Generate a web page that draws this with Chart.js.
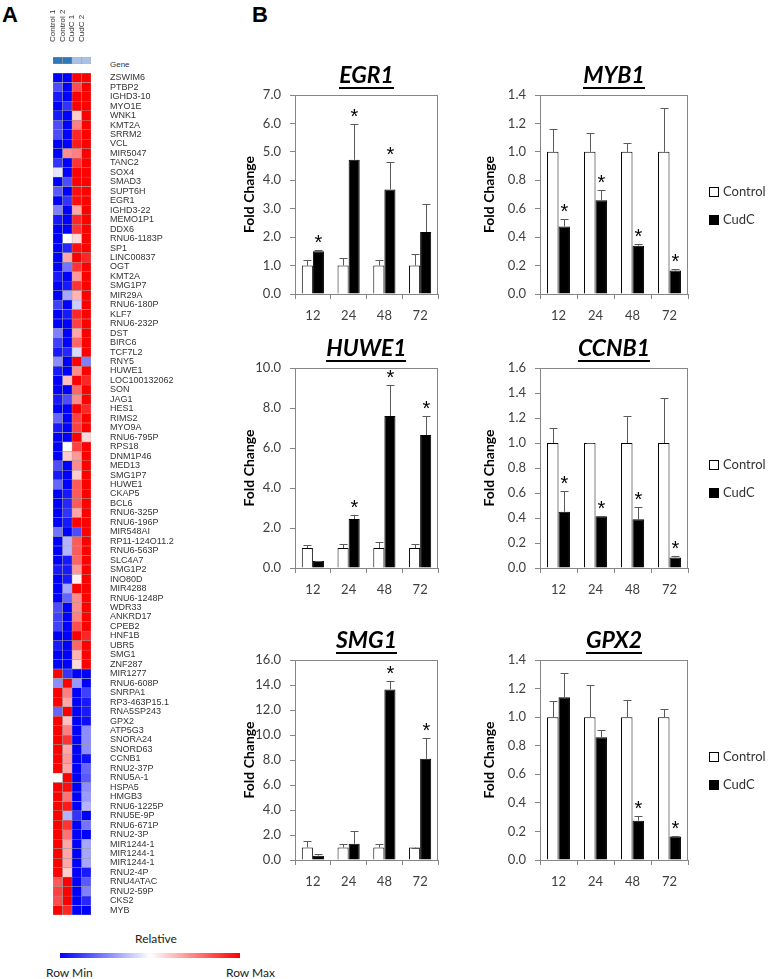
<!DOCTYPE html>
<html>
<head>
<meta charset="utf-8">
<script src="https://cdn.jsdelivr.net/npm/chart.js@4.4.1/dist/chart.umd.min.js"></script>
<style>
  body { margin: 0; background: #fff; width: 771px; height: 979px; position: relative; overflow: hidden; }
  canvas { position: absolute; }
  .txt { position: absolute; white-space: nowrap; color: #222; }
</style>
</head>
<body>
<div class="txt" style="left:2px;top:2px;font:bold 22px 'Liberation Sans',Arial,sans-serif;color:#000">A</div>
<div class="txt" style="left:252px;top:2px;font:bold 22px 'Liberation Sans',Arial,sans-serif;color:#000">B</div>
<div class="txt" style="left:110px;top:60px;font:8px 'Liberation Sans',Arial,sans-serif;color:#333">Gene</div>
<div class="txt" style="left:135px;top:931px;font:12px Lato,sans-serif">Relative</div>
<div style="position:absolute;left:60px;top:953px;width:180px;height:5px;background:linear-gradient(to right,#0000ff,#ffffff,#ff0000)"></div>
<div class="txt" style="left:46px;top:965px;font:12px Lato,sans-serif">Row Min</div>
<div class="txt" style="left:226px;top:965px;font:12px Lato,sans-serif">Row Max</div>

<script>
// ---- panel A: heatmap (row-scaled, -1 = row min, +1 = row max) ----
const genes = ['ZSWIM6','PTBP2','IGHD3-10','MYO1E','WNK1','KMT2A','SRRM2','VCL','MIR5047','TANC2',
  'SOX4','SMAD3','SUPT6H','EGR1','IGHD3-22','MEMO1P1','DDX6','RNU6-1183P','SP1','LINC00837',
  'OGT','KMT2A','SMG1P7','MIR29A','RNU6-180P','KLF7','RNU6-232P','DST','BIRC6','TCF7L2',
  'RNY5','HUWE1','LOC100132062','SON','JAG1','HES1','RIMS2','MYO9A','RNU6-795P','RPS18',
  'DNM1P46','MED13','SMG1P7','HUWE1','CKAP5','BCL6','RNU6-325P','RNU6-196P','MIR548AI','RP11-124O11.2',
  'RNU6-563P','SLC4A7','SMG1P2','INO80D','MIR4288','RNU6-1248P','WDR33','ANKRD17','CPEB2','HNF1B',
  'UBR5','SMG1','ZNF287','MIR1277','RNU6-608P','SNRPA1','RP3-463P15.1','RNA5SP243','GPX2','ATP5G3',
  'SNORA24','SNORD63','CCNB1','RNU2-37P','RNU5A-1','HSPA5','HMGB3','RNU6-1225P','RNU5E-9P','RNU6-671P',
  'RNU2-3P','MIR1244-1','MIR1244-1','MIR1244-1','RNU2-4P','RNU4ATAC','RNU2-59P','CKS2','MYB'];

const control1 = [-1,-0.7,-0.9,-1,-0.9,-0.7,-0.7,-1,-1,-0.8,
  -0.1,-1,-0.65,-1,-0.5,-0.9,-1,-1,-1,-1,
  -1,-0.9,-1,-1,-0.75,-1,-1,-0.5,-0.75,-0.9,
  -0.45,-0.9,-1,-1,-0.9,-1,-0.6,-0.9,-1,-1,
  -1,-0.7,-0.9,-0.6,-1,-1,-1,-1,-0.55,-1,
  -1,-1,-0.9,-1,-1,-1,-0.7,-0.75,-0.75,-1,
  -0.9,-1,-1,1,-0.45,1,1,-0.6,1,1,
  1,1,1,1,0,1,1,1,1,1,
  1,1,1,1,1,0.65,0.75,0.7,1];
const control2 = [-1,-1,-1,-0.8,-1,-1,-1,-1,0.45,-1,
  -1,-0.7,-1,-0.8,-1,-1,-1,0,-0.85,0.35,
  -0.55,-1,-0.9,-0.35,-1,-0.9,-1,-1,-1,-0.85,
  -1,-1,0.25,-1,-0.7,-1,-1,-1,-1,0,
  0.2,-1,-1,-1,-0.9,-0.85,-0.8,-0.9,-1,-0.3,
  -0.3,-0.9,-0.9,-0.9,-0.35,-0.6,-1,-1,-1,-1,
  -1,-1,-1,-0.8,1,0.5,0.35,1,0.25,0.5,
  0.8,0.35,0.4,0.35,1,0.95,0.55,0.9,-0.3,0.8,
  0.55,0.35,0.35,0.35,0.2,1,1,1,0.85];
const cudc1 = [1,0.7,1,1,0.2,0.5,0.85,0.9,0.5,0.8,
  1,1,0.95,0.95,0.35,0.85,0.8,0.15,0.95,1,
  0.8,0.4,0.8,0.3,-0.2,0.85,0.75,0.35,0.6,-0.15,
  1,0.45,1,0.6,0.45,1,0.75,0.75,1,0.75,
  0.4,0.45,0.2,0.65,0.65,0.65,0.35,1,-0.7,0.65,
  0.65,0.6,0.4,0.05,1,0.45,0.45,0.5,0.7,1,
  0.6,0.3,0.15,-1,-0.4,-1,-1,-1,-1,-1,
  -1,-1,-1,-1,-1,-1,-1,-1,-0.8,-1,
  -1,-1,-1,-1,-1,-1,-1,-1,-1];
const cudc2 = [1,1,1,1,1,1,1,1,1,1,
  1,1,1,1,1,1,1,1,1,0.85,
  1,1,1,1,1,1,1,1,1,1,
  -0.5,1,0.85,1,1,0.85,1,1,0.15,1,
  1,1,1,1,1,1,1,1,1,1,
  1,1,1,1,1,1,1,1,1,0.85,
  1,1,1,-1,-1,-0.75,-0.9,-0.9,-0.95,-0.45,
  -0.45,-0.45,-0.95,-0.6,-0.65,-0.45,-0.4,-0.3,-1,-0.55,
  -1,-0.35,-0.35,-0.35,-0.9,-0.65,-0.5,-0.85,-1];
const sampleNames = ['Control 1', 'Control 2', 'CudC 1', 'CudC 2'];
const sampleGroup = ['Control', 'Control', 'CudC', 'CudC'];

// ---- panel B: qPCR fold change ----
const hours = ['12', '24', '48', '72'];

const egr1Control = [1, 1, 1, 1];
const egr1ControlErr = [0.18, 0.28, 0.2, 0.42];
const egr1CudC = [1.5, 4.72, 3.68, 2.18];
const egr1CudCErr = [0.05, 1.26, 0.97, 0.99];
const egr1Sig = [true, true, true, false];

const myb1Control = [1, 1, 1, 1];
const myb1ControlErr = [0.16, 0.13, 0.065, 0.31];
const myb1CudC = [0.475, 0.66, 0.34, 0.165];
const myb1CudCErr = [0.05, 0.07, 0.015, 0.01];
const myb1Sig = [true, true, true, true];

const huwe1Control = [1, 1, 1, 1];
const huwe1ControlErr = [0.15, 0.2, 0.3, 0.18];
const huwe1CudC = [0.35, 2.45, 7.6, 6.65];
const huwe1CudCErr = [0, 0.2, 1.55, 0.93];
const huwe1Sig = [false, true, true, true];

const ccnb1Control = [1, 1, 1, 1];
const ccnb1ControlErr = [0.12, 0.003, 0.22, 0.36];
const ccnb1CudC = [0.45, 0.415, 0.39, 0.085];
const ccnb1CudCErr = [0.17, 0, 0.1, 0.01];
const ccnb1Sig = [true, true, true, true];

const smg1Control = [1, 1, 1, 1];
const smg1ControlErr = [0.55, 0.3, 0.3, 0];
const smg1CudC = [0.35, 1.3, 13.65, 8.1];
const smg1CudCErr = [0.1, 1.05, 0.7, 1.65];
const smg1Sig = [false, false, true, true];

const gpx2Control = [1, 1, 1, 1];
const gpx2ControlErr = [0.11, 0.225, 0.12, 0.06];
const gpx2CudC = [1.14, 0.86, 0.275, 0.165];
const gpx2CudCErr = [0.17, 0.05, 0.03, 0.005];
const gpx2Sig = [false, false, true, true];

const axisMax = { EGR1: 7, MYB1: 1.4, HUWE1: 10, CCNB1: 1.6, SMG1: 16, GPX2: 1.4 };
const axisStep = { EGR1: 1, MYB1: 0.2, HUWE1: 2, CCNB1: 0.2, SMG1: 2, GPX2: 0.2 };

const panels = [
  { gene: 'EGR1', col: 0, row: 0, ctrl: egr1Control, ctrlErr: egr1ControlErr, cudc: egr1CudC, cudcErr: egr1CudCErr, sig: egr1Sig },
  { gene: 'MYB1', col: 1, row: 0, ctrl: myb1Control, ctrlErr: myb1ControlErr, cudc: myb1CudC, cudcErr: myb1CudCErr, sig: myb1Sig },
  { gene: 'HUWE1', col: 0, row: 1, ctrl: huwe1Control, ctrlErr: huwe1ControlErr, cudc: huwe1CudC, cudcErr: huwe1CudCErr, sig: huwe1Sig },
  { gene: 'CCNB1', col: 1, row: 1, ctrl: ccnb1Control, ctrlErr: ccnb1ControlErr, cudc: ccnb1CudC, cudcErr: ccnb1CudCErr, sig: ccnb1Sig },
  { gene: 'SMG1', col: 0, row: 2, ctrl: smg1Control, ctrlErr: smg1ControlErr, cudc: smg1CudC, cudcErr: smg1CudCErr, sig: smg1Sig },
  { gene: 'GPX2', col: 1, row: 2, ctrl: gpx2Control, ctrlErr: gpx2ControlErr, cudc: gpx2CudC, cudcErr: gpx2CudCErr, sig: gpx2Sig },
];

// ---- helpers ----
function addCanvas(left, top, w, h) {
  const c = document.createElement('canvas');
  c.width = w; c.height = h;
  c.style.left = left + 'px'; c.style.top = top + 'px';
  c.style.width = w + 'px'; c.style.height = h + 'px';
  document.body.appendChild(c);
  return c.getContext('2d');
}

function heatColor(v) {
  const t = Math.min(1, Math.abs(v));
  const c = Math.round(255 * (1 - t));
  return v >= 0 ? `rgb(255,${c},${c})` : `rgb(${c},${c},255)`;
}

const groupColor = { Control: '#2f77b6', CudC: '#a9c2e4' };
const geneFont = { family: "'Liberation Sans', Arial, sans-serif", size: 9 };
const noAnim = { responsive: false, animation: false, devicePixelRatio: 1 };

// header strip with sample names (chart area x 53..91, y 57..64)
new Chart(addCanvas(43, 0, 58, 64), {
  type: 'bar',
  data: {
    labels: sampleNames,
    datasets: [{
      data: sampleNames.map(() => 1),
      backgroundColor: sampleGroup.map(g => groupColor[g]),
      borderColor: '#9a9a9a', borderWidth: 0.5, borderSkipped: false,
      categoryPercentage: 1, barPercentage: 1,
    }],
  },
  options: {
    ...noAnim,
    plugins: { legend: { display: false }, tooltip: { enabled: false } },
    layout: { padding: { left: 10, right: 10, top: 0, bottom: 0 } },
    scales: {
      x: {
        position: 'top',
        grid: { display: false }, border: { display: false },
        ticks: { autoSkip: false, minRotation: 90, maxRotation: 90, padding: 7, labelOffset: 5,
          font: { family: geneFont.family, size: 8 }, color: '#333' },
        afterFit: s => { s.height = 57; s.paddingLeft = 0; s.paddingRight = 0; },
      },
      y: { display: false, min: 0, max: 1 },
    },
  },
});

// heatmap body (chart area x 53..91, y 73..915)
const heatValues = [control1, control2, cudc1, cudc2];
new Chart(addCanvas(53, 73, 158, 842), {
  type: 'bar',
  data: {
    labels: genes,
    datasets: heatValues.map((vals, k) => ({
      label: sampleNames[k],
      data: genes.map(() => 1),
      backgroundColor: vals.map(heatColor),
      borderColor: '#9a9a9a', borderWidth: 0.5, borderSkipped: false,
      categoryPercentage: 1, barPercentage: 1,
    })),
  },
  options: {
    ...noAnim,
    indexAxis: 'y',
    plugins: { legend: { display: false }, tooltip: { enabled: false } },
    layout: { padding: 0 },
    scales: {
      x: { stacked: true, display: false, min: 0, max: 4 },
      y: {
        stacked: true, position: 'right',
        grid: { display: false, drawTicks: false }, border: { display: false },
        ticks: { autoSkip: false, padding: 19, crossAlign: 'near', font: geneFont, color: '#333' },
        afterFit: s => { s.width = 120; s.paddingTop = 0; s.paddingBottom = 0; },
      },
    },
  },
});

// error bars, significance stars, plot frame, underlined title, legend
const barExtras = {
  id: 'barExtras',
  afterDatasetsDraw(chart, args, opts) {
    const { ctx, chartArea: a } = chart;
    const y = chart.scales.y;
    ctx.save();
    ctx.strokeStyle = '#868686';
    ctx.lineWidth = 1;
    ctx.strokeRect(Math.round(a.left) + 0.5, Math.round(a.top) + 0.5, Math.round(a.width) - 1, Math.round(a.height));

    opts.errors.forEach((errs, di) => {
      const ds = chart.data.datasets[di];
      chart.getDatasetMeta(di).data.forEach((bar, j) => {
        const x = Math.round(bar.x) + 0.5;
        const top = Math.round(y.getPixelForValue(ds.data[j] + errs[j])) + 0.5;
        ctx.strokeStyle = '#5a5a5a';
        ctx.beginPath();
        ctx.moveTo(x, bar.y); ctx.lineTo(x, top);
        ctx.moveTo(x - 4, top); ctx.lineTo(x + 4, top);
        ctx.stroke();
        if (di === 1 && opts.sig[j]) {
          ctx.fillStyle = '#000';
          ctx.font = "20px 'Liberation Sans', Arial, sans-serif";
          ctx.textAlign = 'center';
          ctx.textBaseline = 'top';
          ctx.fillText('*', x, top - 17);
        }
      });
    });

    const cx = (a.left + a.right) / 2;
    const base = a.top - 12;
    ctx.fillStyle = '#000';
    ctx.font = 'italic bold 23px Lato, sans-serif';
    ctx.textAlign = 'center';
    ctx.textBaseline = 'alphabetic';
    ctx.fillText(opts.title, cx, base);
    const w = ctx.measureText(opts.title).width;
    ctx.fillRect(Math.round(cx - w / 2), base + 4, Math.round(w), 2);

    if (opts.legend) {
      const mid = (a.top + a.bottom) / 2;
      const lx = Math.round(a.right) + 21;
      ctx.font = '13px Lato, sans-serif';
      ctx.textAlign = 'left';
      ctx.textBaseline = 'middle';
      chart.data.datasets.forEach((ds, i) => {
        const ly = Math.round(mid - 3 + i * 28);
        ctx.fillStyle = ds.backgroundColor;
        ctx.fillRect(lx, ly - 5, 10, 10);
        ctx.strokeStyle = '#000';
        ctx.strokeRect(lx + 0.5, ly - 4.5, 9, 9);
        ctx.fillStyle = '#333';
        ctx.fillText(ds.label, lx + 14, ly);
      });
    }
    ctx.restore();
  },
};

const colLeft = [225, 470];
const colWidth = [215, 301];
const colPadRight = [2, 83];
const colTitlePad = [17, 12];
const rowTop = [95, 368, 660];
const rowBottom = [294, 568, 860];
const tickFont = { family: 'Lato, sans-serif', size: 13 };
const frameGrid = { drawOnChartArea: false, drawTicks: true, tickLength: 5, color: '#868686' };

panels.forEach(p => {
  const plotH = rowBottom[p.row] - rowTop[p.row];
  const ctx = addCanvas(colLeft[p.col], rowTop[p.row] - 45, colWidth[p.col], plotH + 85);
  new Chart(ctx, {
    type: 'bar',
    data: {
      labels: hours,
      datasets: [
        { label: 'Control', data: p.ctrl, backgroundColor: '#ffffff', borderColor: '#000', borderWidth: 1 },
        { label: 'CudC', data: p.cudc, backgroundColor: '#000000', borderColor: '#000', borderWidth: 1 },
      ],
    },
    options: {
      ...noAnim,
      datasets: { bar: { categoryPercentage: 0.62, barPercentage: 1 } },
      layout: { padding: { top: 45, right: colPadRight[p.col], left: 0, bottom: 0 } },
      plugins: {
        legend: { display: false }, tooltip: { enabled: false },
        barExtras: { errors: [p.ctrlErr, p.cudcErr], sig: p.sig, title: p.gene, legend: p.col === 1 },
      },
      scales: {
        x: {
          grid: frameGrid, border: { color: '#868686' },
          ticks: { font: tickFont, color: '#404040', padding: 9 },
          afterFit: s => { s.height = 40; s.paddingLeft = 0; s.paddingRight = 0; },
        },
        y: {
          min: 0, max: axisMax[p.gene],
          grid: frameGrid, border: { color: '#868686' },
          ticks: { stepSize: axisStep[p.gene], font: tickFont, color: '#404040', padding: 9, callback: v => v.toFixed(1) },
          title: { display: true, text: 'Fold Change', font: { family: 'Lato, sans-serif', size: 14, weight: 'bold' }, color: '#000', padding: { top: colTitlePad[p.col] - 1, bottom: 0 } },
          afterFit: s => { s.width = 70; },
        },
      },
    },
    plugins: [barExtras],
  });
});
</script>
</body>
</html>
